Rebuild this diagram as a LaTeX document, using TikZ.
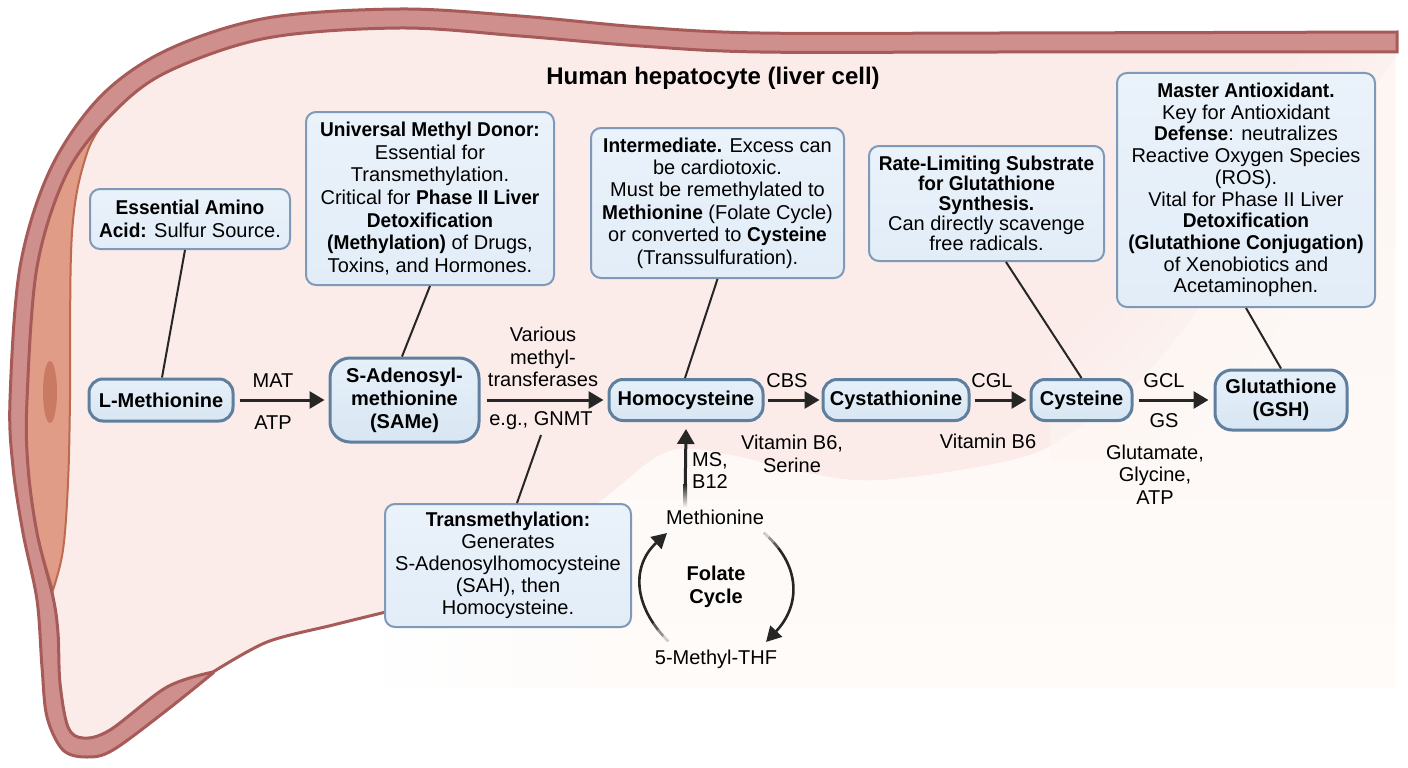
\documentclass[tikz,border=0pt]{standalone}
\usepackage{fontspec}
\setmainfont{Liberation Sans}
\newfontfamily\notefam[FakeStretch=0.955]{Liberation Sans}
\usetikzlibrary{arrows.meta,fadings}
\definecolor{bandfill}{HTML}{CF8F8C}
\definecolor{bandline}{HTML}{A65B59}
\definecolor{salmon}{HTML}{E09C86}
\definecolor{salmonline}{HTML}{BC6A50}
\definecolor{vacuole}{HTML}{C97A62}
\definecolor{cyto}{HTML}{FBECEA}
\definecolor{creamtop}{HTML}{FDF6F2}
\definecolor{creambot}{HTML}{FEFBF9}
\definecolor{inkdark}{HTML}{262626}
\definecolor{noteedge}{HTML}{7F99B8}
\definecolor{nodeedge}{HTML}{5F7F9F}
\definecolor{notetop}{HTML}{EAF2FA}
\definecolor{notebot}{HTML}{E2EDF8}
\definecolor{pathtop}{HTML}{E6F0F9}
\definecolor{pathbot}{HTML}{D8E6F3}
\newcommand{\fs}[2]{\fontsize{#1}{#2}\selectfont}
\newcommand{\nb}[1]{{\notefam\bfseries #1}}
\tikzset{
  infobox/.style={draw=noteedge,line width=2pt,rounded corners=10pt,top color=notetop,bottom color=notebot,
    inner sep=0pt,align=center,text=black},
  pathnode/.style={draw=nodeedge,line width=3pt,rounded corners=14pt,top color=pathtop,bottom color=pathbot,
    inner sep=0pt,align=center,text=black,font=\fs{20}{23}\bfseries},
  enzyme/.style={inner sep=0pt,align=center,text=black,font=\fs{20}{22.5}},
  leader/.style={draw=inkdark,line width=2pt},
  flow/.style={draw=inkdark,line width=3pt,-{Triangle[length=15pt,width=17pt]}},
  cycleflow/.style={draw=inkdark,line width=2.6pt,-{Triangle[length=15pt,width=16pt]}},
  tailfade/.style={draw=creamtop,line width=4pt,opacity=#1},
}
\begin{document}
\begin{tikzpicture}[x=1pt,y=-1pt]
\useasboundingbox (0,0) rectangle (1408,768);
\fill[white] (0,0) rectangle (1408,768);

% cytoplasm: rose upper part and pale lower part of the cell
\fill[cyto] plot[smooth,tension=0.55] coordinates {(213,672)(167,687)(110,730)(83,738)(68,727)(60,683)(58,633)(53,597)(37,533)(28,467)(27,400)(37,267)(67,173)(113,113)(167,72)(267,38)(400,28)(520,36)(640,46)(760,52)(1000,52)(1395,52)}
  -- plot[smooth,tension=0.6] coordinates {(1395,60)(1340,130)(1250,240)(1150,370)(1071,433)(1012,460)(883,480)(806,473)(730,455)(667,452)(602,500)(500,570)(385,612)}
  -- plot[smooth,tension=0.5] coordinates {(385,612)(333,625)(267,642)(213,672)} -- cycle;
\shade[top color=creamtop,bottom color=creambot] plot[smooth,tension=0.6] coordinates {(1395,60)(1340,130)(1250,240)(1150,370)(1071,433)(1012,460)(883,480)(806,473)(730,455)(667,452)(602,500)(500,570)(385,612)}
  -- (385,688) -- (1395,688) -- cycle;

% soft transition along the upper right of the rose area
\begin{scope}
  \clip (1050,52) rectangle (1395,460);
  \foreach \w/\o in {150/0.18,110/0.2,70/0.25,35/0.3}{
    \draw[creamtop,line width=\w pt,opacity=\o] plot[smooth,tension=0.6] coordinates {(1420,30)(1340,130)(1250,240)(1150,370)(1071,433)(1040,450)};
  }
\end{scope}

% the pale area dies away below the cell's lower edge
\fill[white,path fading=east] (385,612) rectangle (640,700);

% salmon pocket along the left wall and its vacuole
\filldraw[fill=salmon,draw=salmonline,line width=2pt] plot[smooth,tension=0.6] coordinates {(53,590)(63,550)(68,483)(70,400)(72,233)(87,153)(108,118)}
  -- plot[smooth,tension=0.6] coordinates {(108,118)(67,173)(37,267)(27,400)(28,467)(37,533)(53,590)} -- cycle;
\fill[vacuole] (50,392) ellipse [x radius=7,y radius=31];

% cell membrane
\filldraw[fill=bandfill,draw=bandline,line width=3pt,line join=miter]
  plot[smooth,tension=0.55] coordinates {(1397,32)(1000,33)(760,33)(640,27)(520,16)(400,9)(267,18)(167,50)(100,97)(50,170)(20,267)(10,400)(13,467)(23,533)(37,600)(42,667)(47,717)(63,750)(87,757)(113,750)(167,710)(213,673)}
  -- plot[smooth,tension=0.55] coordinates {(213,672)(167,687)(110,730)(83,738)(68,727)(60,683)(58,633)(53,597)(37,533)(28,467)(27,400)(37,267)(67,173)(113,113)(167,72)(267,38)(400,28)(520,36)(640,46)(760,52)(1000,52)(1397,52)} -- cycle;
\draw[bandline,line width=3pt] plot[smooth,tension=0.5] coordinates {(213,672)(267,642)(333,625)(390,611)};

\node[font=\fs{24}{28}\bfseries,text=black,inner sep=0pt] (title) at (713,78) {Human hepatocyte (liver cell)};

% annotation boxes
\node[infobox,minimum width=200pt,minimum height=60pt,font=\fs{20}{23}] (noteMet) at (190,219)
  {\nb{Essential Amino}\\\nb{Acid:} Sulfur Source.};
\node[infobox,minimum width=248pt,minimum height=173pt,font=\fs{20}{22.6}] (noteSam) at (430,198.5)
  {\nb{Universal Methyl Donor:}\\Essential for\\Transmethylation.\\Critical for \nb{Phase II Liver}\\\nb{Detoxification}\\\nb{(Methylation)} of Drugs,\\Toxins, and Hormones.};
\node[infobox,minimum width=253pt,minimum height=150pt,font=\fs{20}{22.4}] (noteHcy) at (717.5,203)
  {\nb{Intermediate.} Excess can\\be cardiotoxic.\\Must be remethylated to\\\nb{Methionine} (Folate Cycle)\\or converted to \nb{Cysteine}\\(Transsulfuration).};
\node[infobox,minimum width=235pt,minimum height=115pt,font=\fs{20}{20}] (noteCys) at (986.5,203.5)
  {\nb{Rate-Limiting Substrate}\\\nb{for Glutathione}\\\nb{Synthesis.}\\Can directly scavenge\\free radicals.};
\node[infobox,minimum width=258pt,minimum height=234pt,font=\fs{20}{21.7}] (noteGsh) at (1246,190)
  {\nb{Master Antioxidant.}\\Key for Antioxidant\\\nb{Defense}: neutralizes\\Reactive Oxygen Species\\(ROS).\\Vital for Phase II Liver\\\nb{Detoxification}\\\nb{(Glutathione Conjugation)}\\of Xenobiotics and\\Acetaminophen.};
\node[infobox,minimum width=246pt,minimum height=123pt,font=\fs{20}{22}] (noteTrans) at (508,565.5)
  {\nb{Transmethylation:}\\Generates\\S-Adenosylhomocysteine\\(SAH), then\\Homocysteine.};

% metabolites on the main pathway
\node[pathnode,minimum width=144pt,minimum height=42pt] (lmet) at (161,400) {L-Methionine};
\node[pathnode,minimum width=149pt,minimum height=84pt,rounded corners=20pt] (same) at (404.5,400) {S-Adenosyl-\\methionine\\(SAMe)};
\node[pathnode,minimum width=154pt,minimum height=41pt] (hcy) at (686,400) {Homocysteine};
\node[pathnode,minimum width=146pt,minimum height=41pt] (cysta) at (896,400) {Cystathionine};
\node[pathnode,minimum width=101pt,minimum height=41pt] (cys) at (1081.5,400) {Cysteine};
\node[pathnode,minimum width=132pt,minimum height=60pt,rounded corners=17pt] (gsh) at (1281,400) {Glutathione\\(GSH)};

% enzyme and cofactor labels
\node[enzyme] (mat) at (273,381) {MAT};
\node[enzyme] (atpa) at (273,423) {ATP};
\node[enzyme] (mtase) at (543,357) {Various\\methyl-\\transferases};
\node[enzyme] (gnmt) at (541,421) {e.g., GNMT};
\node[enzyme] (cbs) at (787,381) {CBS};
\node[enzyme] (vitb) at (792,454) {Vitamin B6,\\Serine};
\node[enzyme] (cgl) at (992,381) {CGL};
\node[enzyme] (vitc) at (988,441) {Vitamin B6};
\node[enzyme] (gcl) at (1164,381) {GCL};
\node[enzyme] (gs) at (1164,421) {GS};
\node[enzyme] (cofac) at (1155,474.5) {Glutamate,\\Glycine,\\ATP};
\node[enzyme,align=left] (ms) at (710,470.5) {MS,\\B12};
\node[enzyme] (metb) at (715,517) {Methionine};
\node[enzyme,font=\fs{20}{23}\bfseries] (folate) at (716,587) {Folate\\Cycle};
\node[enzyme] (mthf) at (716,659) {5-Methyl-THF};
\coordinate (gnmtfoot) at (541,435);
\coordinate (mettail) at (685,506);
\coordinate (thfleft) at (668,641);
\coordinate (metleft) at (667,533);
\coordinate (metright) at (764,533);
\coordinate (thfright) at (766,642);

% leader lines from the annotation boxes
\draw[leader] ([xshift=-5pt]noteMet.south) -- ([xshift=1pt]lmet.north);
\draw[leader] (noteSam.south) -- ([xshift=-2.5pt]same.north);
\draw[leader] (noteHcy.south) -- ([xshift=-1pt]hcy.north);
\draw[leader] ([xshift=19.5pt]noteCys.south) -- (cys.north);
\draw[leader] (noteGsh.south) -- (gsh.north);
\draw[leader] ([xshift=9pt]noteTrans.north) -- (gnmtfoot);

% pathway arrows
\draw[flow] ([xshift=5pt]lmet.east) -- ([xshift=-4pt]same.west);
\draw[flow] ([xshift=6pt]same.east) -- ([xshift=-4pt]hcy.west);
\draw[flow] ([xshift=3pt]hcy.east) -- ([xshift=-2pt]cysta.west);
\draw[flow] ([xshift=4pt]cysta.east) -- ([xshift=-3pt]cys.west);
\draw[flow] ([xshift=5pt]cys.east) -- ([xshift=-5pt]gsh.west);
\draw[flow] (mettail) -- ([yshift=-7pt]hcy.south);
\shade[top color=inkdark,bottom color=creamtop] ([xshift=-2pt,yshift=22pt]mettail) rectangle ([xshift=2pt,yshift=-1pt]mettail);

% folate cycle arcs, with tails that thin out
\draw[cycleflow] (thfleft) .. controls (632,605) and (632,565) .. (metleft);
\draw[cycleflow] (metright) .. controls (801,565) and (801,605) .. (thfright);
\draw[tailfade=0.8] (thfleft) -- ++(-5,-5);
\draw[tailfade=0.5] ([shift={(-5pt,5pt)}]thfleft) -- ++(-5,-6);
\draw[tailfade=0.25] ([shift={(-10pt,11pt)}]thfleft) -- ++(-4,-7);
\draw[tailfade=0.8] (metright) -- ++(5,4);
\draw[tailfade=0.5] ([shift={(5pt,-4pt)}]metright) -- ++(5,5);
\draw[tailfade=0.25] ([shift={(10pt,-9pt)}]metright) -- ++(4,6);
\end{tikzpicture}
\end{document}
